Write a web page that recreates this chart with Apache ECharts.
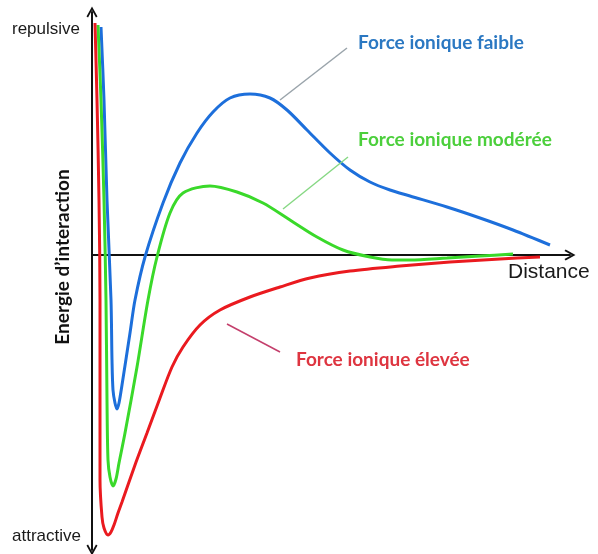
<!DOCTYPE html>
<html>
<head>
<meta charset="utf-8">
<script src="https://cdn.jsdelivr.net/npm/echarts@6/dist/echarts.min.js"></script>
<style>
  html, body { margin: 0; padding: 0; background: #fff; }
  #chart { width: 598px; height: 554px; }
</style>
</head>
<body>
<div id="chart"></div>
<script>
// distance (x) and interaction energy (y), arbitrary units
const faibleX = [9, 12, 15, 19, 20, 21, 23, 25, 27, 30, 38, 43, 53, 71, 88, 105, 121, 138, 158, 178, 195, 215, 238, 258, 278, 298, 318, 355, 388, 421, 458];
const faibleY = [228, 155, 55, -45, -105, -135, -148, -154, -148, -130, -78, -45, -2, 52, 92, 122, 143, 157, 161, 157, 145, 125, 102, 85, 73, 65, 59, 48, 37, 25, 10];

const modereeX = [6, 9, 12, 14, 15, 16, 18, 21, 24, 27, 33, 45, 56, 65, 78, 91, 118, 145, 171, 198, 225, 251, 278, 300, 318, 355, 388, 421];
const modereeY = [230, 155, 55, -45, -145, -205, -222, -231, -224, -208, -178, -112, -45, -2, 42, 62, 69, 63, 52, 35, 18, 5, -2, -5, -5, -3, -1, 1];

const eleveeX = [3, 5, 7, 8, 8, 8, 10, 12, 16, 19, 22, 26, 30, 43, 55, 68, 80, 91, 108, 128, 158, 188, 218, 258, 308, 358, 408, 448];
const eleveeY = [232, 155, 55, -45, -145, -225, -262, -273, -280, -277, -270, -258, -247, -210, -178, -143, -112, -92, -70, -55, -42, -32, -23, -16, -11, -7, -4, -2];

const seriesNames = ['Force ionique faible', 'Force ionique modérée', 'Force ionique élevée'];

// leader lines from each curve to its label
const faibleLeader = [[188, 155], [255, 207]];
const modereeLeader = [[191, 46], [256, 98]];
const eleveeLeader = [[135, -69], [188, -97]];

const toPoints = (xs, ys) => xs.map((x, i) => [x, ys[i]]);

const chevron = 'path://M5,0 L10,9 L8.6,10 L5,3.4 L1.4,10 L0,9 Z';

const chart = echarts.init(document.getElementById('chart'));

const leader = (pts, color) => ({
  silent: true,
  symbol: ['none', 'none'],
  label: { show: false },
  lineStyle: { color: color, width: 1.5, type: 'solid' },
  data: [[{ coord: pts[0] }, { coord: pts[1] }]],
});

const label = (text, x, y, font, color) => ({
  type: 'text', x: x, y: y,
  style: { text: text, font: font, fill: color, align: 'left', verticalAlign: 'middle' },
});

chart.setOption({
  animation: false,
  backgroundColor: '#fff',
  grid: { left: 92, right: 28, top: 12, bottom: 4 },
  xAxis: {
    type: 'value',
    min: 0,
    max: 478,
    axisLine: {
      show: true,
      onZero: true,
      symbol: ['none', chevron],
      symbolSize: [11, 11],
      lineStyle: { color: '#111', width: 2 },
    },
    axisTick: { show: false },
    axisLabel: { show: false },
    splitLine: { show: false },
  },
  yAxis: {
    type: 'value',
    min: -295,
    max: 243,
    axisLine: {
      show: true,
      onZero: false,
      symbol: [chevron, chevron],
      symbolSize: [11, 11],
      lineStyle: { color: '#111', width: 2 },
    },
    axisTick: { show: false },
    axisLabel: { show: false },
    splitLine: { show: false },
  },
  series: [
    {
      name: seriesNames[0],
      type: 'line',
      data: toPoints(faibleX, faibleY),
      showSymbol: false,
      smooth: 0.3,
      lineStyle: { color: '#1d6fdb', width: 3 },
      markLine: leader(faibleLeader, '#9aa4ab'),
    },
    {
      name: seriesNames[1],
      type: 'line',
      data: toPoints(modereeX, modereeY),
      showSymbol: false,
      smooth: 0.3,
      lineStyle: { color: '#3ad92a', width: 3 },
      markLine: leader(modereeLeader, '#86d883'),
    },
    {
      name: seriesNames[2],
      type: 'line',
      data: toPoints(eleveeX, eleveeY),
      showSymbol: false,
      smooth: 0.3,
      lineStyle: { color: '#ea1a1f', width: 3 },
      markLine: leader(eleveeLeader, '#c43f6c'),
    },
  ],
  graphic: [
    label('repulsive', 12, 29, '17px "Liberation Sans", Arial, sans-serif', '#1a1a1a'),
    label('attractive', 12, 536, '17px "Liberation Sans", Arial, sans-serif', '#1a1a1a'),
    label('Distance', 508, 272, '21px "Liberation Sans", Arial, sans-serif', '#1a1a1a'),
    {
      type: 'text', x: 63, y: 257, rotation: Math.PI / 2,
      style: {
        text: 'Energie d’interaction', font: 'bold 19px Lato, sans-serif', fill: '#111',
        align: 'center', verticalAlign: 'middle',
      },
    },
    label(seriesNames[0], 358, 43, 'bold 19px Lato, sans-serif', '#2b78c2'),
    label(seriesNames[1], 358, 140, 'bold 19px Lato, sans-serif', '#4ccf3c'),
    label(seriesNames[2], 296, 360, 'bold 19px Lato, sans-serif', '#de3540'),
  ],
});
</script>
</body>
</html>
